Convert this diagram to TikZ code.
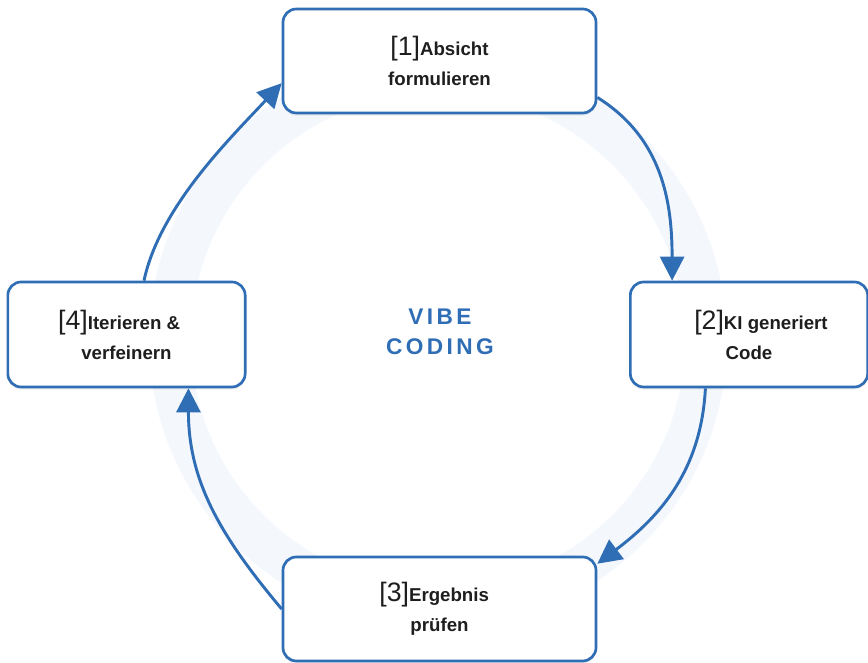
\documentclass[tikz,border=0pt]{standalone}
\usepackage{fontspec}
\setmainfont{Liberation Sans}
\newfontfamily\titlefont[LetterSpace=15]{Liberation Sans}
\usetikzlibrary{arrows.meta,shadows}
\definecolor{lineblue}{HTML}{2F6DB5}
\definecolor{ringblue}{HTML}{F4F8FD}
\definecolor{textdark}{HTML}{1E1E1E}
\newcommand\stepnum[1]{{\mdseries\fontsize{20}{22}\selectfont[#1]}}
\begin{document}
\begin{tikzpicture}[x=0.75pt,y=0.75pt,
  stepbox/.style={draw=lineblue, line width=2pt, fill=white, rounded corners=10pt,
    align=center, text=textdark, inner sep=0pt,
    font=\bfseries\fontsize{14}{22.5}\selectfont,
    drop shadow={opacity=0.12, shadow xshift=0pt, shadow yshift=-2pt}},
  widebox/.style={stepbox, minimum width=234.75pt, minimum height=78pt},
  narrowbox/.style={stepbox, minimum width=178pt, minimum height=78.75pt},
  flow/.style={draw=lineblue, line width=2.2pt, -{Triangle[length=18pt,width=18pt]}},
  titletext/.style={text=lineblue, align=center,
    font=\titlefont\bfseries\fontsize{17}{22.5}\selectfont}]
\useasboundingbox (0,0) rectangle (868,663);
\draw[ringblue, line width=31.5pt] (438,323) circle[radius=201pt];

\node[widebox] (b1) at (439.5,602) {\stepnum{1}Absicht\\formulieren};
\node[narrowbox] (b2) at (749,328.5) {\hbox to 18pt{}\stepnum{2}KI generiert\\Code};
\node[widebox] (b3) at (439.5,54) {\stepnum{3}Ergebnis\hbox to 8pt{}\\prüfen};
\node[narrowbox] (b4) at (126.5,328.5) {\stepnum{4}Iterieren \&\hbox to 11pt{}\\verfeinern};

\node[titletext] (title) at (440,331) {VIBE\\CODING};

\draw[flow] (b1.-13) to[out=-32,in=90] (b2.145);
\draw[flow] (b2.-129) to[out=-93,in=37] (b3.16);
\draw[flow] (b3.west) to[out=130,in=-90] (b4.-41);
\draw[flow] (b4.72) to[out=78,in=-133,looseness=0.8] (b1.-172);
\end{tikzpicture}
\end{document}
